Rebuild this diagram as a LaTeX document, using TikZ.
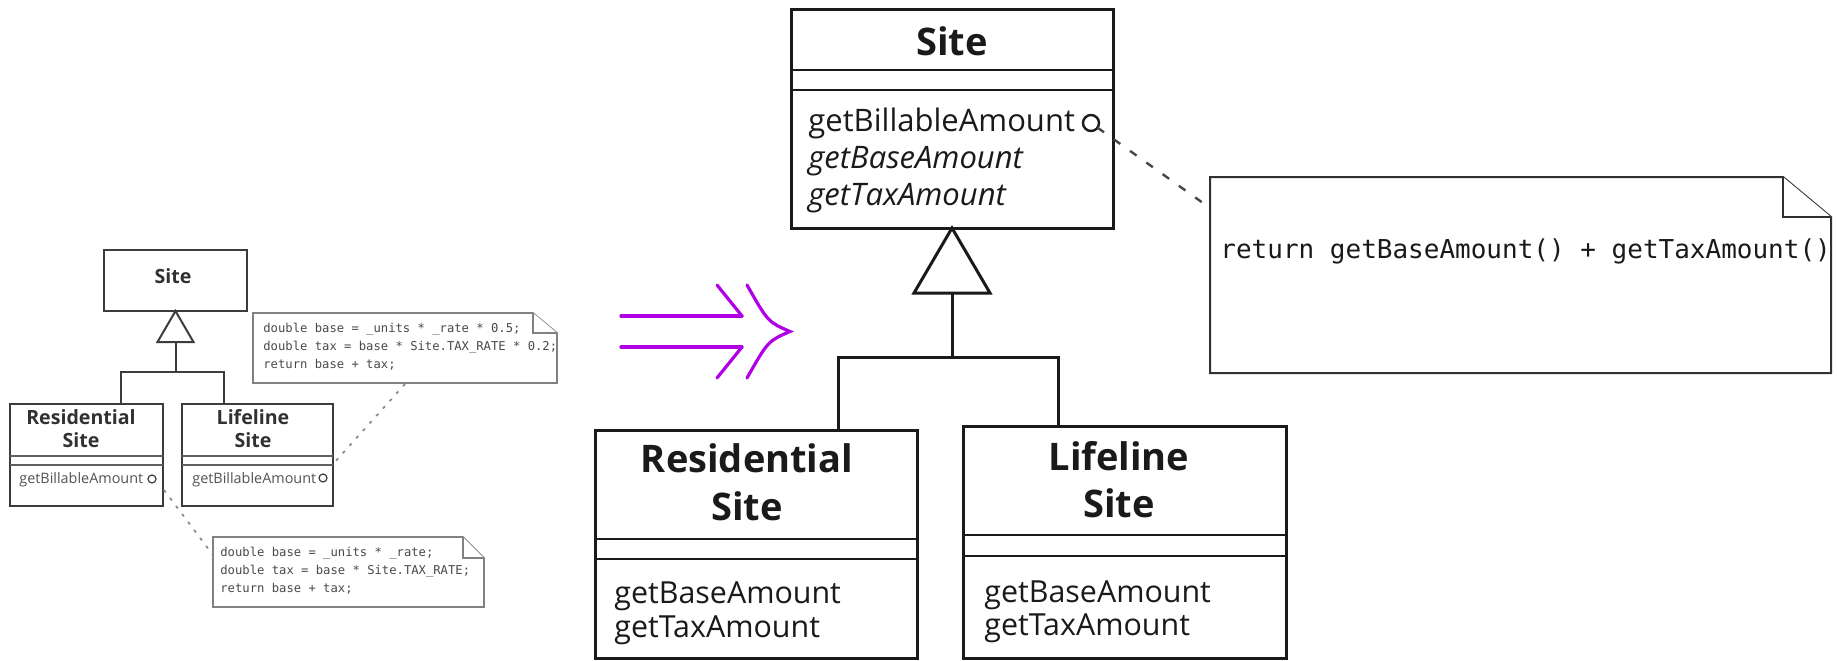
\documentclass[tikz,border=0pt]{standalone}
\usepackage{fontspec}
\setmainfont{Open Sans}
\newfontfamily\codefont{DejaVu Sans Mono}
\usetikzlibrary{calc,fit}

\definecolor{ink}{HTML}{1A1A1A}
\definecolor{refactor}{RGB}{178,0,230}
\definecolor{codegray}{HTML}{4A4A4A}

\begin{document}
\begin{tikzpicture}[x=0.5pt, y=-0.5pt,
  box/.style={draw=ink, line width=1.5pt, inner sep=0pt, outer sep=0pt, fill=white},
  sbox/.style={draw=ink!85, line width=1pt, inner sep=0pt, outer sep=0pt, fill=white},
  sepline/.style={draw=ink, line width=1.2pt},
  ssepline/.style={draw=ink!70, line width=0.6pt},
  wire/.style={draw=ink, line width=1.5pt, line join=miter},
  swire/.style={draw=ink!85, line width=1pt, line join=miter},
  title/.style={font=\bfseries\fontsize{19}{22}\selectfont, text=ink, anchor=base, inner sep=0pt},
  stitle/.style={font=\bfseries\fontsize{9.8}{11}\selectfont, text=ink!90, anchor=base, inner sep=0pt},
  member/.style={font=\fontsize{15.2}{18}\selectfont, text=ink, anchor=base west, inner sep=0pt},
  bigmember/.style={member, font=\fontsize{15.5}{18}\selectfont},
  smember/.style={font=\fontsize{7.2}{9}\selectfont, text=ink!75, anchor=base west, inner sep=0pt},
  code/.style={font=\codefont\fontsize{13}{16}\selectfont, text=ink, anchor=base west, inner sep=0pt},
  scode/.style={font=\codefont\fontsize{6.1}{9}\selectfont, text=codegray, anchor=base west, inner sep=0pt},
  frame/.style={inner sep=0pt, outer sep=0pt},
  note/.style={draw=ink!90, line width=1pt, fill=white, line join=miter},
  snote/.style={draw=ink!55, line width=0.8pt, fill=white, line join=miter},
  link/.style={draw=ink!80, line width=1.2pt, dash pattern=on 4pt off 6pt},
  slink/.style={draw=ink!50, line width=0.9pt, dash pattern=on 1.5pt off 3.5pt},
  knob/.style={circle, draw=ink, line width=1.2pt, minimum size=8pt, inner sep=0pt, outer sep=0pt},
  sknob/.style={circle, draw=ink!85, line width=0.6pt, minimum size=4pt, inner sep=0pt, outer sep=0pt},
  arrowline/.style={draw=refactor, line width=1.6pt, line cap=round},
]
\fill[white] (0,0) rectangle (1837,660);
\useasboundingbox (0,0) rectangle (1837,660);

%% ---------- small "before" hierarchy ----------
\node[sbox, fit={(104,250) (247,311)}] (ssite) {};
\node[stitle] at (173,283) {Site};

\node[sbox, fit={(10,404) (163,506)}] (sres) {};
\node[stitle] at (81,424) {Residential};
\node[stitle] at (81,447) {Site};
\draw[ssepline] (sres.west |- 0,456) -- (sres.east |- 0,456);
\draw[ssepline] (sres.west |- 0,465) -- (sres.east |- 0,465);
\node[smember] at (19,483) {getBillableAmount};
\node[sknob] (sknobres) at (152,479) {};

\node[sbox, fit={(182,404) (333,506)}] (slife) {};
\node[stitle] at (253,424) {Lifeline};
\node[stitle] at (253,447) {Site};
\draw[ssepline] (slife.west |- 0,456) -- (slife.east |- 0,456);
\draw[ssepline] (slife.west |- 0,465) -- (slife.east |- 0,465);
\node[smember] at (192,483) {getBillableAmount};
\node[sknob] (sknoblife) at (323,478) {};

% generalization
\coordinate (shub) at (175.5,372);
\coordinate (srestop) at (121,404);
\coordinate (slifetop) at (224,404);
\draw[swire, fill=white] (ssite.south) -- ++(-18,31) -- ++(36,0) -- cycle;
\draw[swire] ($(ssite.south)+(0,31)$) -- (shub);
\draw[swire] (srestop) |- (shub) -| (slifetop);

% notes
\node[frame, fit={(253,313) (557,383)}] (snotelife) {};
\draw[snote] (snotelife.south west) -- (snotelife.north west)
  -- ($(snotelife.north east)+(-24,0)$) -- ($(snotelife.north east)+(0,20)$)
  -- (snotelife.south east) -- cycle;
\draw[snote] ($(snotelife.north east)+(-24,0)$) |- ($(snotelife.north east)+(0,20)$);
\node[scode] at (263,332) {double base = \_units * \_rate * 0.5;};
\node[scode] at (263,350) {double tax = base * Site.TAX\_RATE * 0.2;};
\node[scode] at (263,368) {return base + tax;};

\node[frame, fit={(213,537) (484,607)}] (snoteres) {};
\draw[snote] (snoteres.south west) -- (snoteres.north west)
  -- ($(snoteres.north east)+(-21,0)$) -- ($(snoteres.north east)+(0,21)$)
  -- (snoteres.south east) -- cycle;
\draw[snote] ($(snoteres.north east)+(-21,0)$) |- ($(snoteres.north east)+(0,21)$);
\node[scode] at (220,556) {double base = \_units * \_rate;};
\node[scode] at (220,574) {double tax = base * Site.TAX\_RATE;};
\node[scode] at (220,592) {return base + tax;};

\coordinate (slinkA) at (405,384);
\coordinate (slinkB) at (334,463);
\draw[slink] (slinkA) -- (slinkB);
\coordinate (slinkC) at (164,490);
\coordinate (slinkD) at (213,555);
\draw[slink] (slinkC) -- (slinkD);

%% ---------- refactoring arrow ----------
\draw[arrowline] (621,316) -- (742,316);
\draw[arrowline] (621,347) -- (742,347);
\draw[arrowline] (717,285) -- (742,316);
\draw[arrowline] (717,378) -- (742,347);
\draw[arrowline] (747,285) .. controls (768,322) .. (790,331.5)
                 .. controls (768,341) .. (747,378);

%% ---------- "after" hierarchy ----------
\node[box, fit={(791,9) (1113,228)}] (site) {};
\node[title] at (952,55) {Site};
\draw[sepline] (site.west |- 0,70) -- (site.east |- 0,70);
\draw[sepline] (site.west |- 0,90) -- (site.east |- 0,90);
\node[bigmember] at (808,131) {getBillableAmount};
\node[bigmember] at (808,168) {\itshape getBaseAmount};
\node[bigmember] at (808,205) {\itshape getTaxAmount};
\node[knob] (knob) at (1091,123) {};

\node[box, fit={(595,430) (917,658)}] (res) {};
\node[title] at (747,472) {Residential};
\node[title] at (747,520) {Site};
\draw[sepline] (res.west |- 0,539) -- (res.east |- 0,539);
\draw[sepline] (res.west |- 0,559) -- (res.east |- 0,559);
\node[member] at (614,603) {getBaseAmount};
\node[member] at (614,637) {getTaxAmount};

\node[box, fit={(963,426) (1286,658)}] (life) {};
\node[title] at (1119,470) {Lifeline};
\node[title] at (1119,517) {Site};
\draw[sepline] (life.west |- 0,535) -- (life.east |- 0,535);
\draw[sepline] (life.west |- 0,556) -- (life.east |- 0,556);
\node[member] at (984,602) {getBaseAmount};
\node[member] at (984,635) {getTaxAmount};

% generalization
\coordinate (hub) at (952,357);
\coordinate (restop) at (838,430);
\coordinate (lifetop) at (1058,426);
\draw[wire, fill=white] (site.south) -- ++(-38,65) -- ++(76,0) -- cycle;
\draw[wire] ($(site.south)+(0,65)$) -- (hub);
\draw[wire] (restop) |- (hub) -| (lifetop);

% note on getBillableAmount
\node[frame, fit={(1210,177) (1831,373)}] (mnote) {};
\draw[note] (mnote.south west) -- (mnote.north west)
  -- ($(mnote.north east)+(-48,0)$) -- ($(mnote.north east)+(0,40)$)
  -- (mnote.south east) -- cycle;
\draw[note] ($(mnote.north east)+(-48,0)$) |- ($(mnote.north east)+(0,40)$);
\node[code] at (1220,258) {return getBaseAmount() + getTaxAmount()};
\coordinate (mlinkend) at (1210,208);
\draw[link] (knob) -- (mlinkend);
\end{tikzpicture}
\end{document}
